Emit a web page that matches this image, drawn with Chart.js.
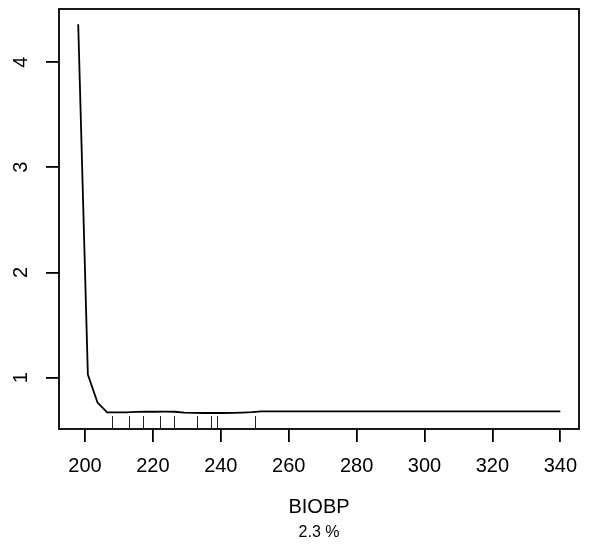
<!DOCTYPE html>
<html>
<head>
<meta charset="utf-8">
<script src="https://cdn.jsdelivr.net/npm/chart.js@4"></script>
<style>
  html, body { margin: 0; padding: 0; background: #fff; }
  #wrap { width: 589px; height: 546px; }
</style>
</head>
<body>
<div id="wrap"><canvas id="myChart" width="589" height="546"></canvas></div>
<script>
// partial dependence of BIOBP
const xValues = [198, 200.84, 203.68, 206.52, 209.36, 212.2, 215.04, 217.88, 220.72, 223.56,
                 226.4, 229.24, 232.08, 234.92, 237.76, 240.6, 243.44, 246.28, 249.12, 251.96, 340];
const yValues = [4.36, 1.03, 0.763, 0.671, 0.670, 0.670, 0.674, 0.676, 0.676, 0.677,
                 0.676, 0.668, 0.665, 0.664, 0.664, 0.664, 0.666, 0.668, 0.672, 0.679, 0.679];
const rugValues = [208, 213, 217, 222.1, 226.1, 233.1, 237.1, 239, 250.1];
const xTicks = [200, 220, 240, 260, 280, 300, 320, 340];
const yTicks = [1, 2, 3, 4];
const xTitle = 'BIOBP';
const subTitle = '2.3 %';

const FONT = "'Liberation Sans', Arial, sans-serif";

// box, rotated y labels, titles and rug
const extras = {
    id: 'extras',
    afterDraw(chart) {
        const ctx = chart.ctx;
        const a = chart.chartArea;
        const xs = chart.scales.x;
        const ys = chart.scales.y;
        ctx.save();
        ctx.strokeStyle = '#000';
        ctx.lineWidth = 1.8;
        ctx.strokeRect(a.left, a.top, a.right - a.left, a.bottom - a.top);

        // rug
        ctx.lineWidth = 1;
        ctx.strokeStyle = '#222';
        rugValues.forEach(v => {
            const px = Math.round(xs.getPixelForValue(v)) + 0.5;
            ctx.beginPath();
            ctx.moveTo(px, a.bottom);
            ctx.lineTo(px, a.bottom - 13);
            ctx.stroke();
        });

        // y tick labels, vertical like R
        ctx.fillStyle = '#000';
        ctx.font = '20px ' + FONT;
        ctx.textAlign = 'center';
        ctx.textBaseline = 'middle';
        yTicks.forEach(v => {
            const py = ys.getPixelForValue(v);
            ctx.save();
            ctx.translate(21.5, py);
            ctx.rotate(-Math.PI / 2);
            ctx.fillText(String(v), 0, 0);
            ctx.restore();
        });

        const cx = (a.left + a.right) / 2;
        ctx.fillText(xTitle, cx, 507);
        ctx.font = '16px ' + FONT;
        ctx.fillText(subTitle, cx, 533);
        ctx.restore();
    }
};

const ctx = document.getElementById('myChart').getContext('2d');
const myChart = new Chart(ctx, {
    type: 'line',
    data: {
        datasets: [{
            data: xValues.map((x, i) => ({ x: x, y: yValues[i] })),
            borderColor: '#000',
            borderWidth: 1.8,
            pointRadius: 0,
            tension: 0,
            fill: false
        }]
    },
    options: {
        responsive: false,
        animation: false,
        events: [],
        layout: { padding: { top: 9, right: 10, left: 0, bottom: 0 } },
        plugins: {
            legend: { display: false },
            tooltip: { enabled: false }
        },
        scales: {
            x: {
                type: 'linear',
                min: 192.34,
                max: 345.5,
                afterFit: s => { s.height = 117; s.paddingLeft = 0; s.paddingRight = 0; },
                afterBuildTicks: s => { s.ticks = xTicks.map(v => ({ value: v })); },
                grid: {
                    drawOnChartArea: false,
                    drawTicks: true,
                    tickLength: 13,
                    color: '#000',
                    lineWidth: 1.8
                },
                border: { display: false },
                ticks: {
                    color: '#000',
                    font: { family: FONT, size: 20 },
                    padding: 12,
                    maxRotation: 0,
                    autoSkip: false
                }
            },
            y: {
                type: 'linear',
                min: 0.512,
                max: 4.505,
                afterFit: s => { s.width = 59; s.paddingTop = 0; s.paddingBottom = 0; },
                afterBuildTicks: s => { s.ticks = yTicks.map(v => ({ value: v })); },
                grid: {
                    drawOnChartArea: false,
                    drawTicks: true,
                    tickLength: 13,
                    color: '#000',
                    lineWidth: 1.8
                },
                border: { display: false },
                ticks: { display: false }
            }
        }
    },
    plugins: [extras]
});
</script>
</body>
</html>
